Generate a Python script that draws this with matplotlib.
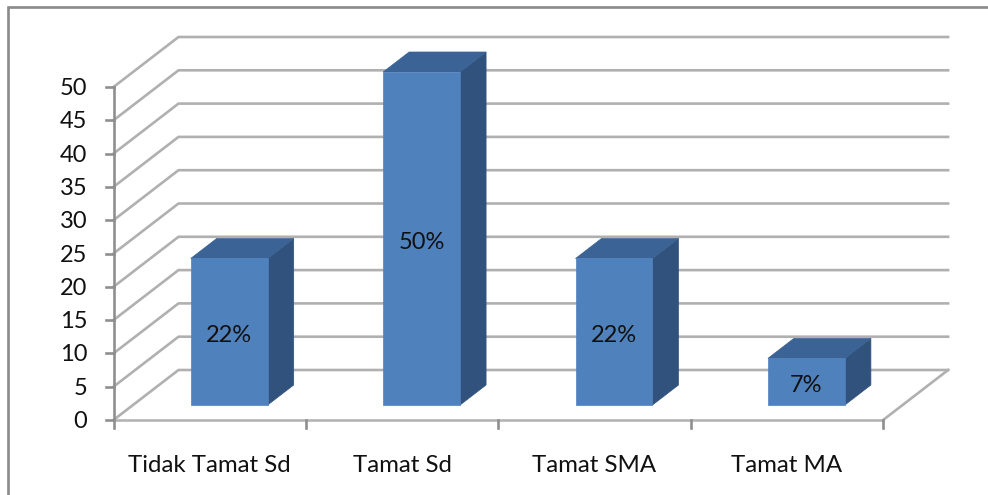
import matplotlib
matplotlib.use("Agg")
import matplotlib.pyplot as plt
from matplotlib.patches import Polygon

categories = ["Tidak Tamat Sd", "Tamat Sd", "Tamat SMA", "Tamat MA"]
values = [22, 50, 22, 7]
bar_labels = ["22%", "50%", "22%", "7%"]
y_ticks = [0, 5, 10, 15, 20, 25, 30, 35, 40, 45, 50]

W, H = 988, 495
X0, CAT_W = 113.5, 192.4      # pixel position of first category edge / width
Y0, UNIT = 420.0, 6.66        # pixel of zero / pixels per value unit
DX, DY = 65.0, 50.0           # depth offset in pixels

plt.rcParams['font.family'] = ['Lato', 'DejaVu Sans']
fig = plt.figure(figsize=(W / 100, H / 100), dpi=100, facecolor='white')
ax = fig.add_axes([0, 0, 1, 1])
ax.set_xlim(-X0 / CAT_W, (W - X0) / CAT_W)
ax.set_ylim((Y0 - H) / UNIT, Y0 / UNIT)
ax.axis('off')

def P(c, v, d=0.0):
    return (c + d * DX / CAT_W, v + d * DY / UNIT)

px_x = 1 / CAT_W
px_y = 1 / UNIT
n = len(categories)
GRID = '#b0b0b0'
AXIS = '#8f8f8f'

# outer frame: only the left and top edges fall inside the picture
fx = (8 - X0) / CAT_W
fy = (Y0 - 7) / UNIT
ax.plot([fx, fx, (W + 5 - X0) / CAT_W], [(Y0 - H - 5) / UNIT, fy, fy],
        color='#8a8a8a', lw=1.9, solid_joinstyle='miter', zorder=1)

# gridlines: side wall + back wall
for t in y_ticks:
    a, b, c = P(0, t), P(0, t, 1), P(n, t, 1)
    ax.plot([a[0], b[0], c[0]], [a[1], b[1], c[1]], color=GRID, lw=1.9,
            solid_joinstyle='miter', zorder=2)
# floor right edge
a, b = P(n, 0), P(n, 0, 1)
ax.plot([a[0], b[0]], [a[1], b[1]], color=GRID, lw=1.9, zorder=2)

# axes lines and ticks
ax.plot([0, 0], [0, max(y_ticks)], color=AXIS, lw=1.9, zorder=3)
ax.plot([0, n], [0, 0], color='#b4b4b4', lw=1.9, zorder=3)
for t in y_ticks:
    ax.plot([-8 * px_x, 0], [t, t], color=AXIS, lw=1.9, zorder=3)
    ax.text(-26 * px_x, t - 1.5 * px_y, str(t), ha='right', va='center', fontsize=17, color='#111111')
for i in range(n + 1):
    ax.plot([i, i], [0, -8 * px_y], color=AXIS, lw=1.9, zorder=3)

# 3D bars
for i, (v, lab, cat) in enumerate(zip(values, bar_labels, categories)):
    l, r = i + 0.3, i + 0.7
    d0, d1 = 0.3, 0.7
    ax.add_patch(Polygon([P(r, 0, d0), P(r, 0, d1), P(r, v, d1), P(r, v, d0)],
                         closed=True, fc='#31527c', ec='#31527c', lw=0.5, zorder=4))
    ax.add_patch(Polygon([P(l, v, d0), P(l, v, d1), P(r, v, d1), P(r, v, d0)],
                         closed=True, fc='#3b6395', ec='#3b6395', lw=0.5, zorder=4))
    ax.add_patch(Polygon([P(l, 0, d0), P(r, 0, d0), P(r, v, d0), P(l, v, d0)],
                         closed=True, fc='#4f81bd', ec='#4f81bd', lw=0.5, zorder=5))
    cx, cy = P(i + 0.5, v / 2, d0)
    ax.text(cx, cy - 4 * px_y, lab, ha='center', va='center', fontsize=17, color='#111111', zorder=6)
    ax.text(i + 0.5, -45 * px_y, cat, ha='center', va='center', fontsize=17.3, color='#111111')

fig.savefig('out.png', dpi=100, facecolor='white')
